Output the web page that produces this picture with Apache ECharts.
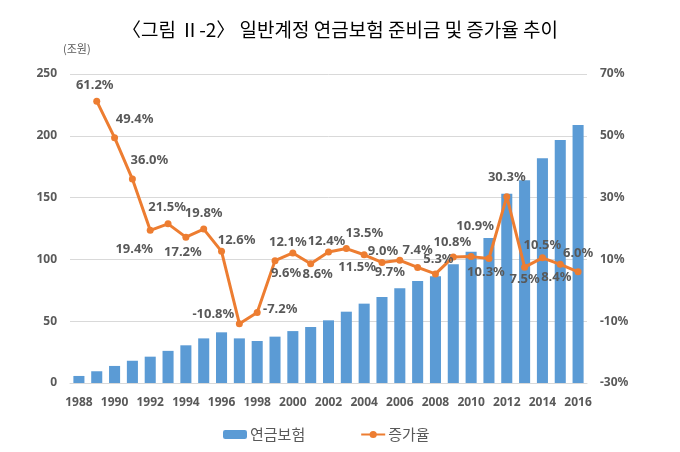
<!DOCTYPE html>
<html>
<head>
<meta charset="utf-8">
<script src="https://cdn.jsdelivr.net/npm/echarts@6/dist/echarts.min.js"></script>
<style>
html,body{margin:0;padding:0;background:#fff;}
#c{width:680px;height:452px;}
</style>
</head>
<body>
<div id="c"></div>
<script>
var years = ['1988','1989','1990','1991','1992','1993','1994','1995','1996','1997','1998','1999','2000','2001','2002','2003','2004','2005','2006','2007','2008','2009','2010','2011','2012','2013','2014','2015','2016'];
var reserves = [5.7, 9.5, 13.8, 18, 21.3, 26, 30.5, 36.1, 41, 36.1, 34, 37.5, 42, 45.3, 50.7, 57.7, 64.2, 69.6, 76.6, 82.5, 86.4, 96, 106.2, 117.3, 153.2, 164, 181.8, 196.6, 208.7];
var growth = [null, 61.2, 49.4, 36.0, 19.4, 21.5, 17.2, 19.8, 12.6, -10.8, -7.2, 9.6, 12.1, 8.6, 12.4, 13.5, 11.5, 9.0, 9.7, 7.4, 5.3, 10.8, 10.9, 10.3, 30.3, 7.5, 10.5, 8.4, 6.0];
var leftTicks = [0, 50, 100, 150, 200, 250];
var rightTicks = [-30, -10, 10, 30, 50, 70];
var seriesNames = ['연금보험', '증가율'];
var titleText = '〈그림 Ⅱ-2〉 일반계정 연금보험 준비금 및 증가율 추이';
var unitText = '(조원)';
// label offsets (style only): [dx, dy] from the point
var labelOffsets = [[0,0],[-2,-16],[20,-18],[17,-19],[-16,19],[-1,-17],[-3,15],[0,-16],[15,-11],[-26,-9],[23,-3],[11,13],[-5,-11],[7,11],[-2,-11],[18,-15],[-7,13],[1,-11],[-10,12],[0,-17],[3,-15],[-1,-15],[4,-30],[-3,14],[0,-19],[0,12],[0,-13],[-4,13],[0,-18]];

var FONT = '"Noto Sans", "Noto Sans CJK KR", sans-serif';
var GRAY = '#595959';

var lineData = growth.map(function(v, i){
  return {
    value: v,
    label: {offset: labelOffsets[i]}
  };
});

var chart = echarts.init(document.getElementById('c'), null, {renderer:'canvas'});
chart.setOption({
  backgroundColor: '#fff',
  animation: false,
  title: {
    text: titleText,
    left: 'center',
    top: 15,
    textStyle: {fontFamily: '"Noto Sans CJK KR", sans-serif', fontSize: 19, fontWeight: 'normal', color: '#000'}
  },
  graphic: [{
    type: 'text', left: 63, top: 43,
    style: {text: unitText, fontFamily: '"Noto Sans CJK KR", sans-serif', fontSize: 11, fill: GRAY}
  }],
  legend: {
    data: seriesNames,
    left: 218, top: 422,
    itemGap: 55,
    itemWidth: 24, itemHeight: 9,
    textStyle: {fontFamily: '"Noto Sans CJK KR", sans-serif', fontSize: 15, color: GRAY, padding:[0,0,0,-2]}
  },
  grid: {left: 70, right: 93, top: 74, bottom: 69},
  xAxis: {
    type: 'category',
    data: years,
    axisTick: {show: false},
    axisLine: {lineStyle: {color: '#D9D9D9'}},
    axisLabel: {interval: 1, color: GRAY, fontFamily: FONT, fontWeight: 'bold', fontSize: 12, margin: 14}
  },
  yAxis: [{
    type: 'value', min: leftTicks[0], max: leftTicks[leftTicks.length-1], interval: 50,
    axisLine: {show: false}, axisTick: {show: false},
    splitLine: {lineStyle: {color: '#D9D9D9'}},
    axisLabel: {color: GRAY, fontFamily: FONT, fontWeight: 'bold', fontSize: 12, margin: 13}
  }, {
    type: 'value', min: rightTicks[0], max: rightTicks[rightTicks.length-1], interval: 20,
    axisLine: {show: false}, axisTick: {show: false},
    splitLine: {show: false},
    axisLabel: {color: GRAY, fontFamily: FONT, fontWeight: 'bold', fontSize: 12, margin: 13, formatter: '{value}%'}
  }],
  series: [{
    name: seriesNames[0],
    type: 'bar',
    data: reserves,
    barWidth: '62%',
    itemStyle: {color: '#5B9BD5'},
    z: 2
  }, {
    name: seriesNames[1],
    type: 'line',
    yAxisIndex: 1,
    data: lineData,
    connectNulls: false,
    symbol: 'circle', symbolSize: 7,
    lineStyle: {color: '#ED7D31', width: 3},
    itemStyle: {color: '#ED7D31'},
    label: {
      show: true, position: 'inside',
      color: GRAY, fontFamily: FONT, fontWeight: 'bold', fontSize: 13,
      formatter: function(p){ return p.value == null ? '' : p.value.toFixed(1) + '%'; }
    },
    z: 3
  }]
});
</script>
</body>
</html>
